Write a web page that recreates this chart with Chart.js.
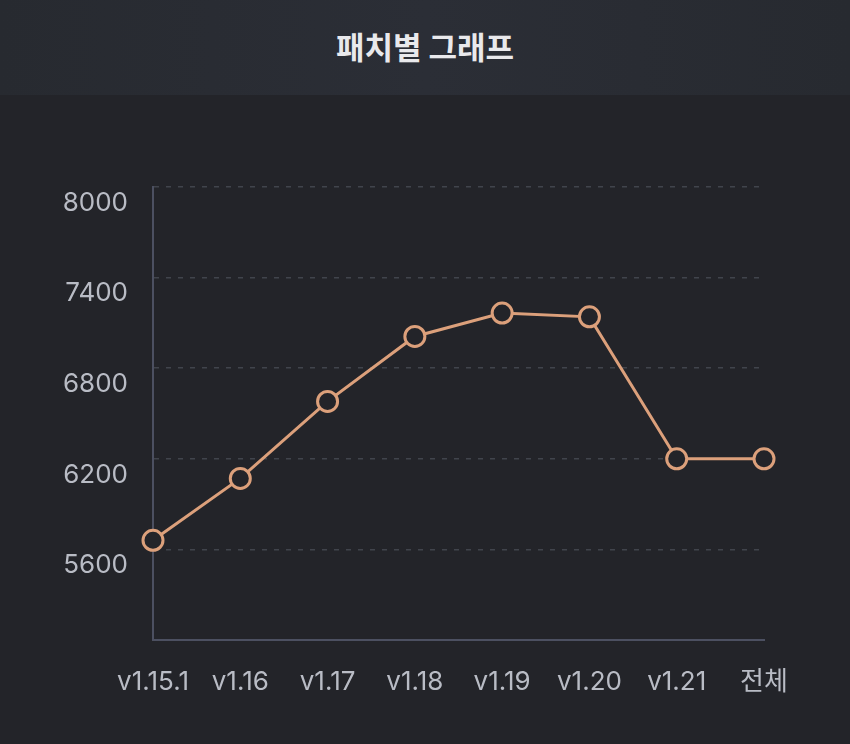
<!DOCTYPE html>
<html>
<head>
<meta charset="utf-8">
<script src="https://cdn.jsdelivr.net/npm/chart.js@4"></script>
<style>
  html, body { margin: 0; padding: 0; background: #232429; }
  #wrap { position: relative; width: 850px; height: 744px; }
  #header {
    position: absolute; left: 0; top: 0; width: 850px; height: 95px;
    background: linear-gradient(90deg, #272a30 0%, #2b2e36 50%, #272a30 100%);
    color: #e9e9ec; font-family: "Noto Sans CJK KR", sans-serif; font-weight: 700;
    font-size: 31px; text-align: center; line-height: 92px;
  }
  #chartBox { position: absolute; left: 0; top: 0; width: 850px; height: 744px; }
</style>
</head>
<body>
<div id="wrap">
  <div id="header">패치별 그래프</div>
  <div id="chartBox"><canvas id="patchChart"></canvas></div>
</div>
<script>
const patches = ['v1.15.1', 'v1.16', 'v1.17', 'v1.18', 'v1.19', 'v1.20', 'v1.21', '전체'];
const scores = [5660, 6070, 6580, 7010, 7165, 7140, 6200, 6200];
const yTicks = [5600, 6200, 6800, 7400, 8000];

const textColor = '#b9bcc5';
const axisColor = '#4c5061';
const gridColor = '#41444c';
const lineColor = '#dca07b';
const labelFont = { family: 'Inter, "Noto Sans CJK KR", sans-serif', size: 26 };

const ctx = document.getElementById('patchChart').getContext('2d');

const chart = new Chart(ctx, {
    type: 'line',
    data: {
        labels: patches,
        datasets: [{
            label: '패치별',
            data: scores,
            borderColor: lineColor,
            borderWidth: 3,
            pointRadius: 10,
            pointHoverRadius: 10,
            pointBorderWidth: 3,
            pointBackgroundColor: '#232429',
            pointBorderColor: lineColor,
            tension: 0,
            fill: false
        }]
    },
    options: {
        responsive: true,
        maintainAspectRatio: false,
        animation: false,
        layout: { padding: { top: 187, right: 86, bottom: 0, left: 0 } },
        plugins: {
            legend: { display: false },
            tooltip: { enabled: false }
        },
        scales: {
            x: {
                offset: false,
                grid: { display: false, drawTicks: false },
                border: { color: axisColor, width: 2 },
                ticks: { color: textColor, font: labelFont, padding: 27, maxRotation: 0, autoSkip: false },
                afterFit: (s) => { s.height = 104; }
            },
            y: {
                min: 5000,
                max: 8000,
                afterBuildTicks: (s) => { s.ticks = [5000].concat(yTicks).map(v => ({ value: v })); },
                grid: {
                    drawTicks: false,
                    color: (c) => (c.tick && c.tick.value === 5000) ? 'rgba(0,0,0,0)' : gridColor,
                    lineWidth: 1.5
                },
                border: { color: axisColor, width: 2, dash: [5, 7] },
                ticks: {
                    color: textColor,
                    font: labelFont,
                    padding: 25,
                    labelOffset: 16,
                    callback: (v) => v === 5000 ? '' : v
                },
                afterFit: (s) => { s.width = 153; }
            }
        }
    }
});
</script>
</body>
</html>
